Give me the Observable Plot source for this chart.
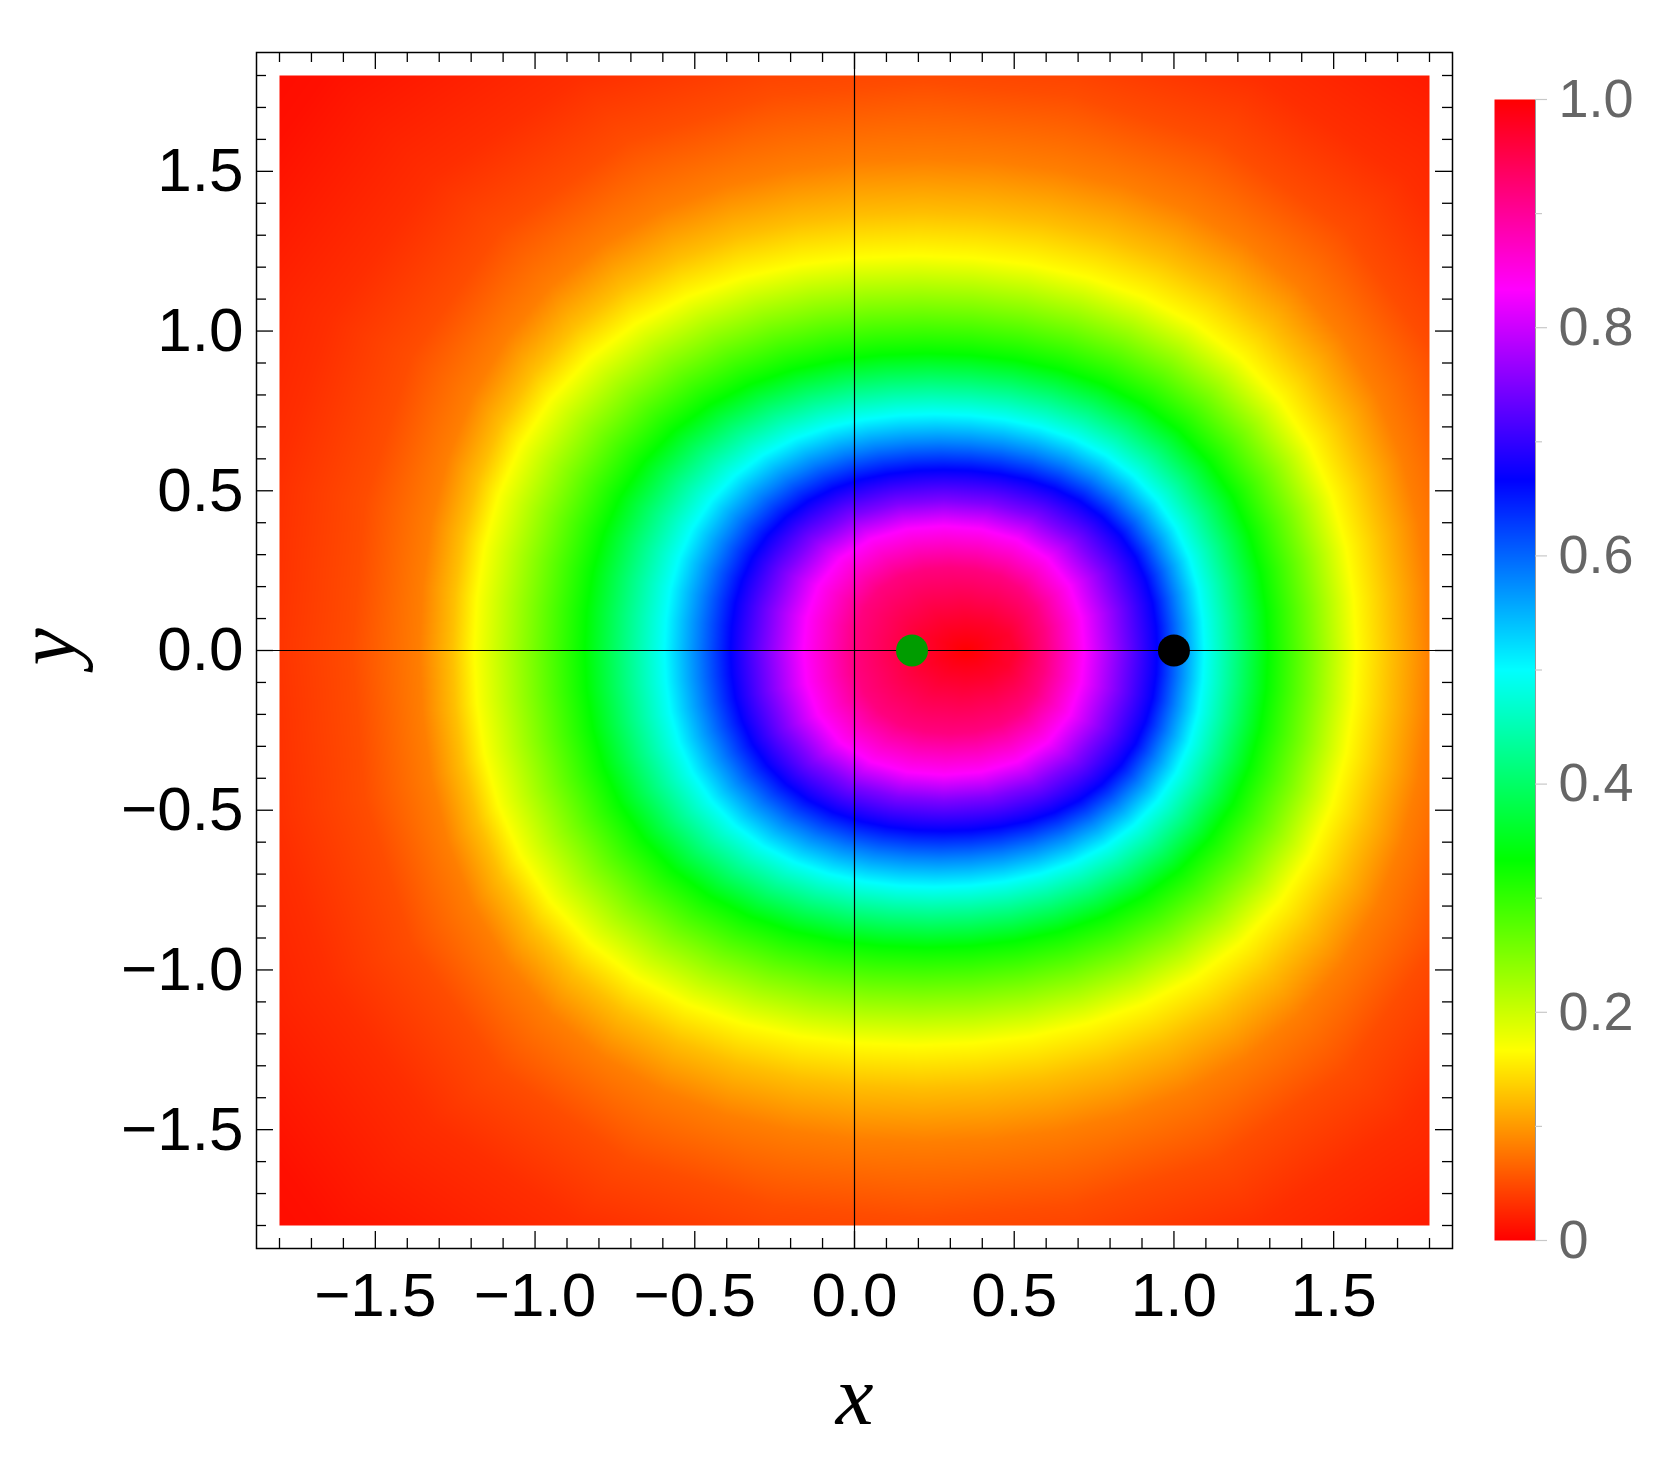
<!DOCTYPE html>
<html>
<head>
<meta charset="utf-8">
<script src="https://cdn.jsdelivr.net/npm/d3@7"></script>
<script src="https://cdn.jsdelivr.net/npm/@observablehq/plot@0.6"></script>
<style>
  body { margin: 0; background: #fff; }
  #wrap { position: relative; width: 1665px; height: 1457px; }
  #wrap svg { position: absolute; top: 0; }
</style>
</head>
<body>
<div id="wrap"></div>
<script>
// ---- data ----
// Colour rings of the density field (upper half, y >= 0; the field is mirror-symmetric in y).
// Each ring: its value, and the estimated x / y positions of points along it (right side -> top -> left side).
const ringLevels = [0.97, 0.917, 0.833, 0.75, 0.667, 0.583, 0.5, 0.417, 0.333, 0.25, 0.167, 0.125, 0.083, 0.05, 0.03, 0.01];
const ringX = [
  [0.500, 0.480, 0.425, 0.350, 0.275, 0.220, 0.200],
  [0.600, 0.593, 0.569, 0.522, 0.455, 0.379, 0.300, 0.221, 0.145, 0.078, 0.031, 0.007, 0.000],
  [0.720, 0.710, 0.674, 0.605, 0.508, 0.395, 0.280, 0.165, 0.052, -0.045, -0.114, -0.150, -0.160],
  [0.835, 0.822, 0.777, 0.691, 0.567, 0.425, 0.280, 0.135, -0.007, -0.131, -0.217, -0.262, -0.275],
  [0.948, 0.944, 0.933, 0.911, 0.879, 0.833, 0.774, 0.704, 0.626, 0.542, 0.455, 0.368, 0.280, 0.193, 0.105, 0.018, -0.066, -0.144, -0.214, -0.273, -0.319, -0.351, -0.373, -0.384, -0.388],
  [1.020, 1.016, 1.003, 0.979, 0.941, 0.890, 0.823, 0.744, 0.656, 0.561, 0.463, 0.364, 0.265, 0.166, 0.067, -0.031, -0.126, -0.214, -0.293, -0.360, -0.411, -0.449, -0.473, -0.486, -0.490],
  [1.095, 1.090, 1.076, 1.049, 1.007, 0.949, 0.875, 0.787, 0.687, 0.581, 0.471, 0.361, 0.250, 0.139, 0.029, -0.081, -0.187, -0.287, -0.375, -0.449, -0.507, -0.549, -0.576, -0.590, -0.595],
  [1.195, 1.190, 1.173, 1.142, 1.095, 1.030, 0.946, 0.845, 0.733, 0.612, 0.488, 0.362, 0.237, 0.112, -0.014, -0.138, -0.259, -0.371, -0.472, -0.556, -0.621, -0.668, -0.699, -0.716, -0.721],
  [1.295, 1.289, 1.270, 1.236, 1.184, 1.110, 1.016, 0.904, 0.778, 0.644, 0.505, 0.365, 0.225, 0.085, -0.055, -0.194, -0.328, -0.454, -0.566, -0.660, -0.734, -0.786, -0.820, -0.839, -0.845],
  [1.435, 1.428, 1.407, 1.368, 1.308, 1.224, 1.116, 0.988, 0.844, 0.690, 0.531, 0.370, 0.210, 0.050, -0.111, -0.270, -0.424, -0.568, -0.696, -0.804, -0.888, -0.948, -0.987, -1.008, -1.015],
  [1.570, 1.562, 1.538, 1.494, 1.426, 1.332, 1.211, 1.066, 0.904, 0.730, 0.551, 0.371, 0.190, 0.009, -0.171, -0.350, -0.524, -0.686, -0.831, -0.952, -1.046, -1.114, -1.158, -1.182, -1.190],
  [1.680, 1.672, 1.646, 1.599, 1.527, 1.426, 1.297, 1.143, 0.970, 0.786, 0.595, 0.403, 0.210, 0.018, -0.175, -0.366, -0.550, -0.723, -0.877, -1.006, -1.107, -1.179, -1.226, -1.252, -1.260],
  [1.800, 1.791, 1.764, 1.713, 1.636, 1.527, 1.389, 1.223, 1.037, 0.839, 0.634, 0.427, 0.220, 0.013, -0.194, -0.399, -0.597, -0.783, -0.949, -1.087, -1.196, -1.273, -1.324, -1.351, -1.360],
  [2.005, 1.964, 1.819, 1.539, 1.141, 0.684, 0.215, -0.254, -0.711, -1.109, -1.389, -1.534, -1.575],
  [2.260, 2.213, 2.046, 1.724, 1.266, 0.739, 0.200, -0.339, -0.866, -1.324, -1.646, -1.813, -1.860],
  [2.700, 2.643, 2.440, 2.049, 1.493, 0.855, 0.200, -0.455, -1.093, -1.649, -2.040, -2.243, -2.300]
];
const ringY = [
  [0, 0.050, 0.087, 0.100, 0.087, 0.050, 0],
  [0, 0.068, 0.135, 0.192, 0.233, 0.254, 0.260, 0.254, 0.233, 0.192, 0.135, 0.068, 0],
  [0, 0.102, 0.202, 0.288, 0.349, 0.381, 0.390, 0.381, 0.349, 0.288, 0.202, 0.102, 0],
  [0, 0.123, 0.243, 0.348, 0.421, 0.459, 0.470, 0.459, 0.421, 0.348, 0.243, 0.123, 0],
  [0, 0.074, 0.148, 0.221, 0.292, 0.359, 0.418, 0.468, 0.506, 0.534, 0.552, 0.562, 0.565, 0.562, 0.552, 0.534, 0.506, 0.468, 0.418, 0.359, 0.292, 0.221, 0.148, 0.074, 0],
  [0, 0.085, 0.170, 0.254, 0.336, 0.413, 0.481, 0.538, 0.582, 0.614, 0.635, 0.646, 0.650, 0.646, 0.635, 0.614, 0.582, 0.538, 0.481, 0.413, 0.336, 0.254, 0.170, 0.085, 0],
  [0, 0.097, 0.194, 0.290, 0.383, 0.470, 0.547, 0.612, 0.663, 0.699, 0.723, 0.736, 0.740, 0.736, 0.723, 0.699, 0.663, 0.612, 0.547, 0.470, 0.383, 0.290, 0.194, 0.097, 0],
  [0, 0.109, 0.219, 0.327, 0.432, 0.530, 0.618, 0.691, 0.748, 0.789, 0.816, 0.830, 0.835, 0.830, 0.816, 0.789, 0.748, 0.691, 0.618, 0.530, 0.432, 0.327, 0.219, 0.109, 0],
  [0, 0.122, 0.243, 0.364, 0.481, 0.590, 0.688, 0.769, 0.833, 0.879, 0.909, 0.925, 0.930, 0.925, 0.909, 0.879, 0.833, 0.769, 0.688, 0.590, 0.481, 0.364, 0.243, 0.122, 0],
  [0, 0.141, 0.283, 0.423, 0.559, 0.686, 0.799, 0.894, 0.968, 1.021, 1.055, 1.074, 1.080, 1.074, 1.055, 1.021, 0.968, 0.894, 0.799, 0.686, 0.559, 0.423, 0.283, 0.141, 0],
  [0, 0.162, 0.323, 0.484, 0.639, 0.784, 0.913, 1.022, 1.106, 1.167, 1.207, 1.228, 1.235, 1.228, 1.207, 1.167, 1.106, 1.022, 0.913, 0.784, 0.639, 0.484, 0.323, 0.162, 0],
  [0, 0.179, 0.359, 0.536, 0.709, 0.870, 1.013, 1.134, 1.227, 1.295, 1.339, 1.362, 1.370, 1.362, 1.339, 1.295, 1.227, 1.134, 1.013, 0.870, 0.709, 0.536, 0.359, 0.179, 0],
  [0, 0.202, 0.403, 0.603, 0.797, 0.978, 1.139, 1.274, 1.380, 1.456, 1.505, 1.532, 1.540, 1.532, 1.505, 1.456, 1.380, 1.274, 1.139, 0.978, 0.797, 0.603, 0.403, 0.202, 0],
  [0, 0.466, 0.921, 1.317, 1.595, 1.739, 1.780, 1.739, 1.595, 1.317, 0.921, 0.466, 0],
  [0, 0.524, 1.035, 1.479, 1.792, 1.954, 2.000, 1.954, 1.792, 1.479, 1.035, 0.524, 0],
  [0, 0.641, 1.267, 1.812, 2.195, 2.394, 2.450, 2.394, 2.195, 1.812, 1.267, 0.641, 0]
];
// the red core and the far corners
const peakX = [0.35], peakY = [0], peakV = [1.0];
const cornerX = [-2.0, 2.0], cornerY = [2.0, 2.0], cornerV = [0.003, 0.006];

// the two marked points
const greenPoint = [{x: 0.18, y: 0}];
const blackPoint = [{x: 1.0, y: 0}];

// tick labels
const axisTicks = [-1.5, -1.0, -0.5, 0.0, 0.5, 1.0, 1.5];
const colorbarTicks = [0, 0.2, 0.4, 0.6, 0.8, 1.0];
const colorbarLabels = ["0", "0.2", "0.4", "0.6", "0.8", "1.0"];

// ---- build sample table (mirror y) ----
const samples = [];
function addSample(x, y, v) {
  samples.push({x, y, v});
  if (y > 0) samples.push({x, y: -y, v});
}
ringLevels.forEach((v, i) => ringX[i].forEach((x, j) => addSample(x, ringY[i][j], v)));
peakX.forEach((x, i) => addSample(x, peakY[i], peakV[i]));
cornerX.forEach((x, i) => addSample(x, cornerY[i], cornerV[i]));

// ---- layout ----
const W = 1665, H = 1457;
const L = 256, R = 1452, T = 52, B = 1248;
const PAD = 1.872;
const pxPerUnit = (R - L) / (2 * PAD);
const frameTicks = d3.range(-18, 19).map(i => i / 10);
const isMajor = v => Math.abs(v * 2 - Math.round(v * 2)) < 1e-6;
const tlen = v => (isMajor(v) ? 17 : 10) / pxPerUnit;

const hue = t => d3.hsl(t * 360, 1, 0.5).formatHex();
const colorOpts = {type: "linear", domain: [0, 1], interpolate: hue};
const sans = "'Liberation Sans', Arial, Helvetica, sans-serif";
const serif = "'Liberation Serif', 'Times New Roman', serif";

const main = Plot.plot({
  width: W, height: H,
  marginLeft: L, marginRight: W - R, marginTop: T, marginBottom: H - B,
  x: {domain: [-PAD, PAD], axis: null, label: null},
  y: {domain: [-PAD, PAD], axis: null, label: null},
  color: colorOpts,
  style: {fontFamily: sans, background: "transparent", color: "black"},
  marks: [
    Plot.raster(samples, {x: "x", y: "y", fill: "v", x1: -1.8, x2: 1.8, y1: -1.8, y2: 1.8, interpolate: "barycentric", pixelSize: 1}),
    Plot.ruleX([0], {stroke: "black", strokeWidth: 1.2}),
    Plot.ruleY([0], {stroke: "black", strokeWidth: 1.2}),
    Plot.ruleX(frameTicks, {x: d => d, y1: -PAD, y2: d => -PAD + tlen(d), stroke: "black", strokeWidth: 1.3}),
    Plot.ruleX(frameTicks, {x: d => d, y1: PAD, y2: d => PAD - tlen(d), stroke: "black", strokeWidth: 1.3}),
    Plot.ruleY(frameTicks, {y: d => d, x1: -PAD, x2: d => -PAD + tlen(d), stroke: "black", strokeWidth: 1.3}),
    Plot.ruleY(frameTicks, {y: d => d, x1: PAD, x2: d => PAD - tlen(d), stroke: "black", strokeWidth: 1.3}),
    Plot.frame({stroke: "black", strokeWidth: 1.5}),
    Plot.dot(greenPoint, {x: "x", y: "y", r: 16, fill: "#009c00", stroke: "none"}),
    Plot.dot(blackPoint, {x: "x", y: "y", r: 16, fill: "black", stroke: "none"}),
    Plot.axisX({anchor: "bottom", ticks: axisTicks, tickFormat: d3.format(".1f"), tickSize: 0, tickPadding: 23, fontSize: 62, label: null, color: "black"}),
    Plot.axisY({anchor: "left", ticks: axisTicks, tickFormat: d3.format(".1f"), tickSize: 0, tickPadding: 13, fontSize: 62, label: null, color: "black"}),
    Plot.text(["x"], {frameAnchor: "bottom", lineAnchor: "bottom", dy: 175, fontSize: 85, fontStyle: "italic", fontFamily: serif, fill: "black"}),
    Plot.text(["y"], {frameAnchor: "left", dx: -208, dy: 15, rotate: -90, fontSize: 84, fontStyle: "italic", fontFamily: serif, fill: "black"})
  ]
});

// ---- colorbar ----
const CB_L = 1494, CB_W = 41, CB_T = 99, CB_B = 1240;
const cbWidth = W - CB_L;
const cbMinor = d3.range(0, 11).map(i => i / 10);
const cbUnit = 1 / CB_W;
const cb = Plot.plot({
  width: cbWidth, height: H,
  marginLeft: 0, marginRight: cbWidth - CB_W, marginTop: CB_T, marginBottom: H - CB_B,
  x: {domain: [0, 1], axis: null, label: null},
  y: {domain: [0, 1], axis: null, label: null},
  color: colorOpts,
  style: {fontFamily: sans, background: "transparent"},
  marks: [
    Plot.raster({x1: 0, x2: 1, y1: 0, y2: 1, fill: (x, y) => y, pixelSize: 1}),
    Plot.ruleX([1], {y1: 0, y2: 1, stroke: "#999", strokeWidth: 1}),
    Plot.ruleY(cbMinor, {y: d => d, x1: 1, x2: d => 1 + (Math.round(d * 10) % 2 === 0 ? 12 : 7) * cbUnit, stroke: "#c8c8c8", strokeWidth: 1.2}),
    Plot.text(colorbarTicks, {x: 1, y: d => d, text: (d, i) => colorbarLabels[i], textAnchor: "start", dx: 23, fontSize: 54, fill: "#666666"})
  ]
});

const wrap = document.getElementById("wrap");
main.style.left = "0px";
cb.style.left = CB_L + "px";
wrap.appendChild(main);
wrap.appendChild(cb);
</script>
</body>
</html>
